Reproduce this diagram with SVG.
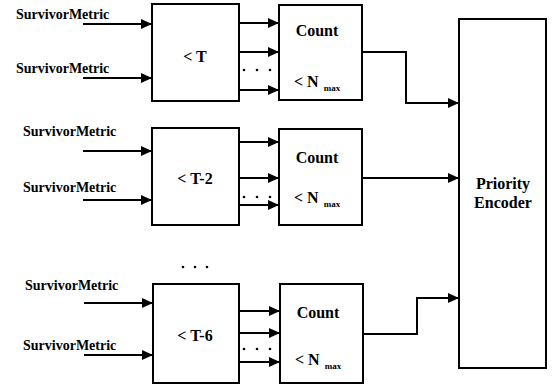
<svg xmlns="http://www.w3.org/2000/svg" width="552" height="385" viewBox="0 0 552 385">
<defs>
<marker id="arr" markerUnits="userSpaceOnUse" markerWidth="12" markerHeight="10" refX="11" refY="5" orient="auto">
<path d="M0,0 L11,5 L0,10 Z" fill="#000"/>
</marker>
<style>
.box{fill:#fff;stroke:#000;stroke-width:2}
.ln{fill:none;stroke:#000;stroke-width:2}
.ar{fill:none;stroke:#000;stroke-width:2;marker-end:url(#arr)}
.t{font-family:"Liberation Serif","Times New Roman",serif;font-weight:bold;fill:#000}
.lbl{font-size:14px}
.big{font-size:16px}
.sub{font-size:9px}
.dot{fill:#000}
</style>
</defs>
<rect width="552" height="385" fill="#fff"/>

<g id="labels">
<text class="t lbl" x="16" y="19">SurvivorMetric</text>
<text class="t lbl" x="16" y="73">SurvivorMetric</text>
<text class="t lbl" x="23" y="136">SurvivorMetric</text>
<text class="t lbl" x="23" y="192">SurvivorMetric</text>
<text class="t lbl" x="25" y="290">SurvivorMetric</text>
<text class="t lbl" x="23" y="350">SurvivorMetric</text>
</g>

<g id="cmp1">
<rect class="box" x="152" y="4" width="87" height="97"/>
<text class="t big" x="195" y="62" text-anchor="middle">&lt; T</text>
</g>
<g id="cmp2">
<rect class="box" x="152" y="128" width="87" height="97"/>
<text class="t big" x="195" y="184" text-anchor="middle">&lt; T-2</text>
</g>
<g id="cmp3">
<rect class="box" x="153" y="284" width="86" height="99"/>
<text class="t big" x="195" y="341" text-anchor="middle">&lt; T-6</text>
</g>

<g id="cnt1">
<rect class="box" x="279" y="5" width="83" height="95"/>
<text class="t big" x="317" y="36" text-anchor="middle">Count</text>
<text class="t big" x="294" y="87">&lt; N<tspan class="sub" dx="5" dy="4">max</tspan></text>
</g>
<g id="cnt2">
<rect class="box" x="279" y="129" width="83" height="96"/>
<text class="t big" x="317" y="163" text-anchor="middle">Count</text>
<text class="t big" x="294" y="203">&lt; N<tspan class="sub" dx="5" dy="4">max</tspan></text>
</g>
<g id="cnt3">
<rect class="box" x="280" y="284" width="83" height="99"/>
<text class="t big" x="318" y="318" text-anchor="middle">Count</text>
<text class="t big" x="295" y="365">&lt; N<tspan class="sub" dx="5" dy="4">max</tspan></text>
</g>

<g id="encoder">
<rect class="box" x="459" y="19" width="87" height="349"/>
<text class="t big" x="503" y="189" text-anchor="middle">Priority</text>
<text class="t big" x="503" y="208" text-anchor="middle">Encoder</text>
</g>

<g id="connectors">
<line class="ar" x1="83" y1="24" x2="152" y2="24"/>
<line class="ar" x1="83" y1="78" x2="152" y2="78"/>
<line class="ar" x1="83" y1="151" x2="152" y2="151"/>
<line class="ar" x1="83" y1="200" x2="152" y2="200"/>
<line class="ar" x1="84" y1="303" x2="153" y2="303"/>
<line class="ar" x1="84" y1="355" x2="153" y2="355"/>

<line class="ar" x1="239" y1="23" x2="279" y2="23"/>
<line class="ar" x1="239" y1="52" x2="279" y2="52"/>
<line class="ar" x1="239" y1="90" x2="279" y2="90"/>

<line class="ar" x1="239" y1="142" x2="279" y2="142"/>
<line class="ar" x1="239" y1="178" x2="279" y2="178"/>
<line class="ar" x1="239" y1="205" x2="279" y2="205"/>

<line class="ar" x1="239" y1="311" x2="280" y2="311"/>
<line class="ar" x1="239" y1="333" x2="280" y2="333"/>
<line class="ar" x1="239" y1="362" x2="280" y2="362"/>

<polyline class="ar" points="362,52 406,52 406,103 459,103"/>
<line class="ar" x1="362" y1="178" x2="459" y2="178"/>
<polyline class="ar" points="363,334 417,334 417,298 459,298"/>
</g>

<g id="dots">
<circle class="dot" cx="244" cy="70" r="1.3"/>
<circle class="dot" cx="257" cy="70" r="1.3"/>
<circle class="dot" cx="270" cy="70" r="1.3"/>
<circle class="dot" cx="244" cy="197" r="1.3"/>
<circle class="dot" cx="257" cy="197" r="1.3"/>
<circle class="dot" cx="270" cy="197" r="1.3"/>
<circle class="dot" cx="244" cy="349" r="1.3"/>
<circle class="dot" cx="257" cy="349" r="1.3"/>
<circle class="dot" cx="270" cy="349" r="1.3"/>
<circle class="dot" cx="183" cy="267" r="1.3"/>
<circle class="dot" cx="195" cy="267" r="1.3"/>
<circle class="dot" cx="207" cy="267" r="1.3"/>
</g>
</svg>
